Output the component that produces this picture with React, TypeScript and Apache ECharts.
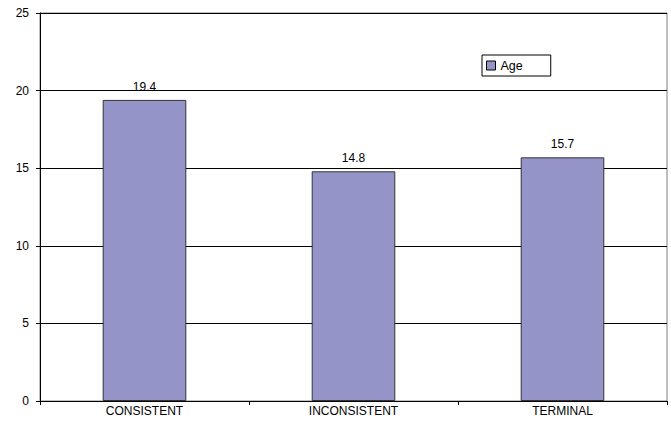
import React, { useEffect, useRef } from "react";
import * as echarts from "echarts";

const categories = ["CONSISTENT", "INCONSISTENT", "TERMINAL"];
const ageValues = [19.4, 14.8, 15.7];
const seriesName = "Age";

export default function App() {
  const ref = useRef<HTMLDivElement>(null);
  useEffect(() => {
    const chart = echarts.init(ref.current!, null, { renderer: "svg" });
    const font = "'Liberation Sans', Arial, sans-serif";
    chart.setOption({
      animation: false,
      backgroundColor: "#ffffff",
      textStyle: { fontFamily: font },
      grid: {
        left: 40,
        right: 4,
        top: 13,
        bottom: 26,
        containLabel: false,
        show: true,
        borderColor: "#808080",
        borderWidth: 1,
      },
      legend: {
        data: [seriesName],
        left: 482,
        top: 55,
        orient: "vertical",
        icon: "rect",
        itemWidth: 9,
        itemHeight: 9,
        padding: [4, 28, 4, 4],
        borderColor: "#000000",
        borderWidth: 1,
        backgroundColor: "#ffffff",
        itemGap: 4,
        textStyle: { fontFamily: font, fontSize: 12.5, color: "#000000" },
        itemStyle: { borderColor: "#000000", borderWidth: 1 },
      },
      xAxis: {
        type: "category",
        data: categories,
        axisLine: { lineStyle: { color: "#000000", width: 1 } },
        axisTick: { show: true, alignWithLabel: false, length: 4, lineStyle: { color: "#000000" } },
        axisLabel: { color: "#000000", fontSize: 12, fontFamily: font, margin: 4 },
      },
      yAxis: {
        type: "value",
        min: 0,
        max: 25,
        interval: 5,
        axisLine: { show: true, lineStyle: { color: "#000000", width: 1 } },
        axisTick: { show: true, length: 4, lineStyle: { color: "#000000" } },
        axisLabel: { color: "#000000", fontSize: 12, fontFamily: font, margin: 11 },
        splitLine: { show: true, lineStyle: { color: "#000000", width: 1 } },
      },
      series: [
        {
          name: seriesName,
          type: "bar",
          data: ageValues,
          barWidth: "40%",
          itemStyle: { color: "#9494C8", borderColor: "#333333", borderWidth: 1 },
          label: {
            show: true,
            position: "top",
            distance: 7,
            color: "#000000",
            fontSize: 12,
            fontFamily: font,
            formatter: (p: any) => p.value.toFixed(1),
          },
        },
      ],
    });
    return () => chart.dispose();
  }, []);
  return (
    <div
      ref={ref}
      style={{ position: "fixed", left: 0, top: 0, width: 671, height: 427 }}
    />
  );
}
